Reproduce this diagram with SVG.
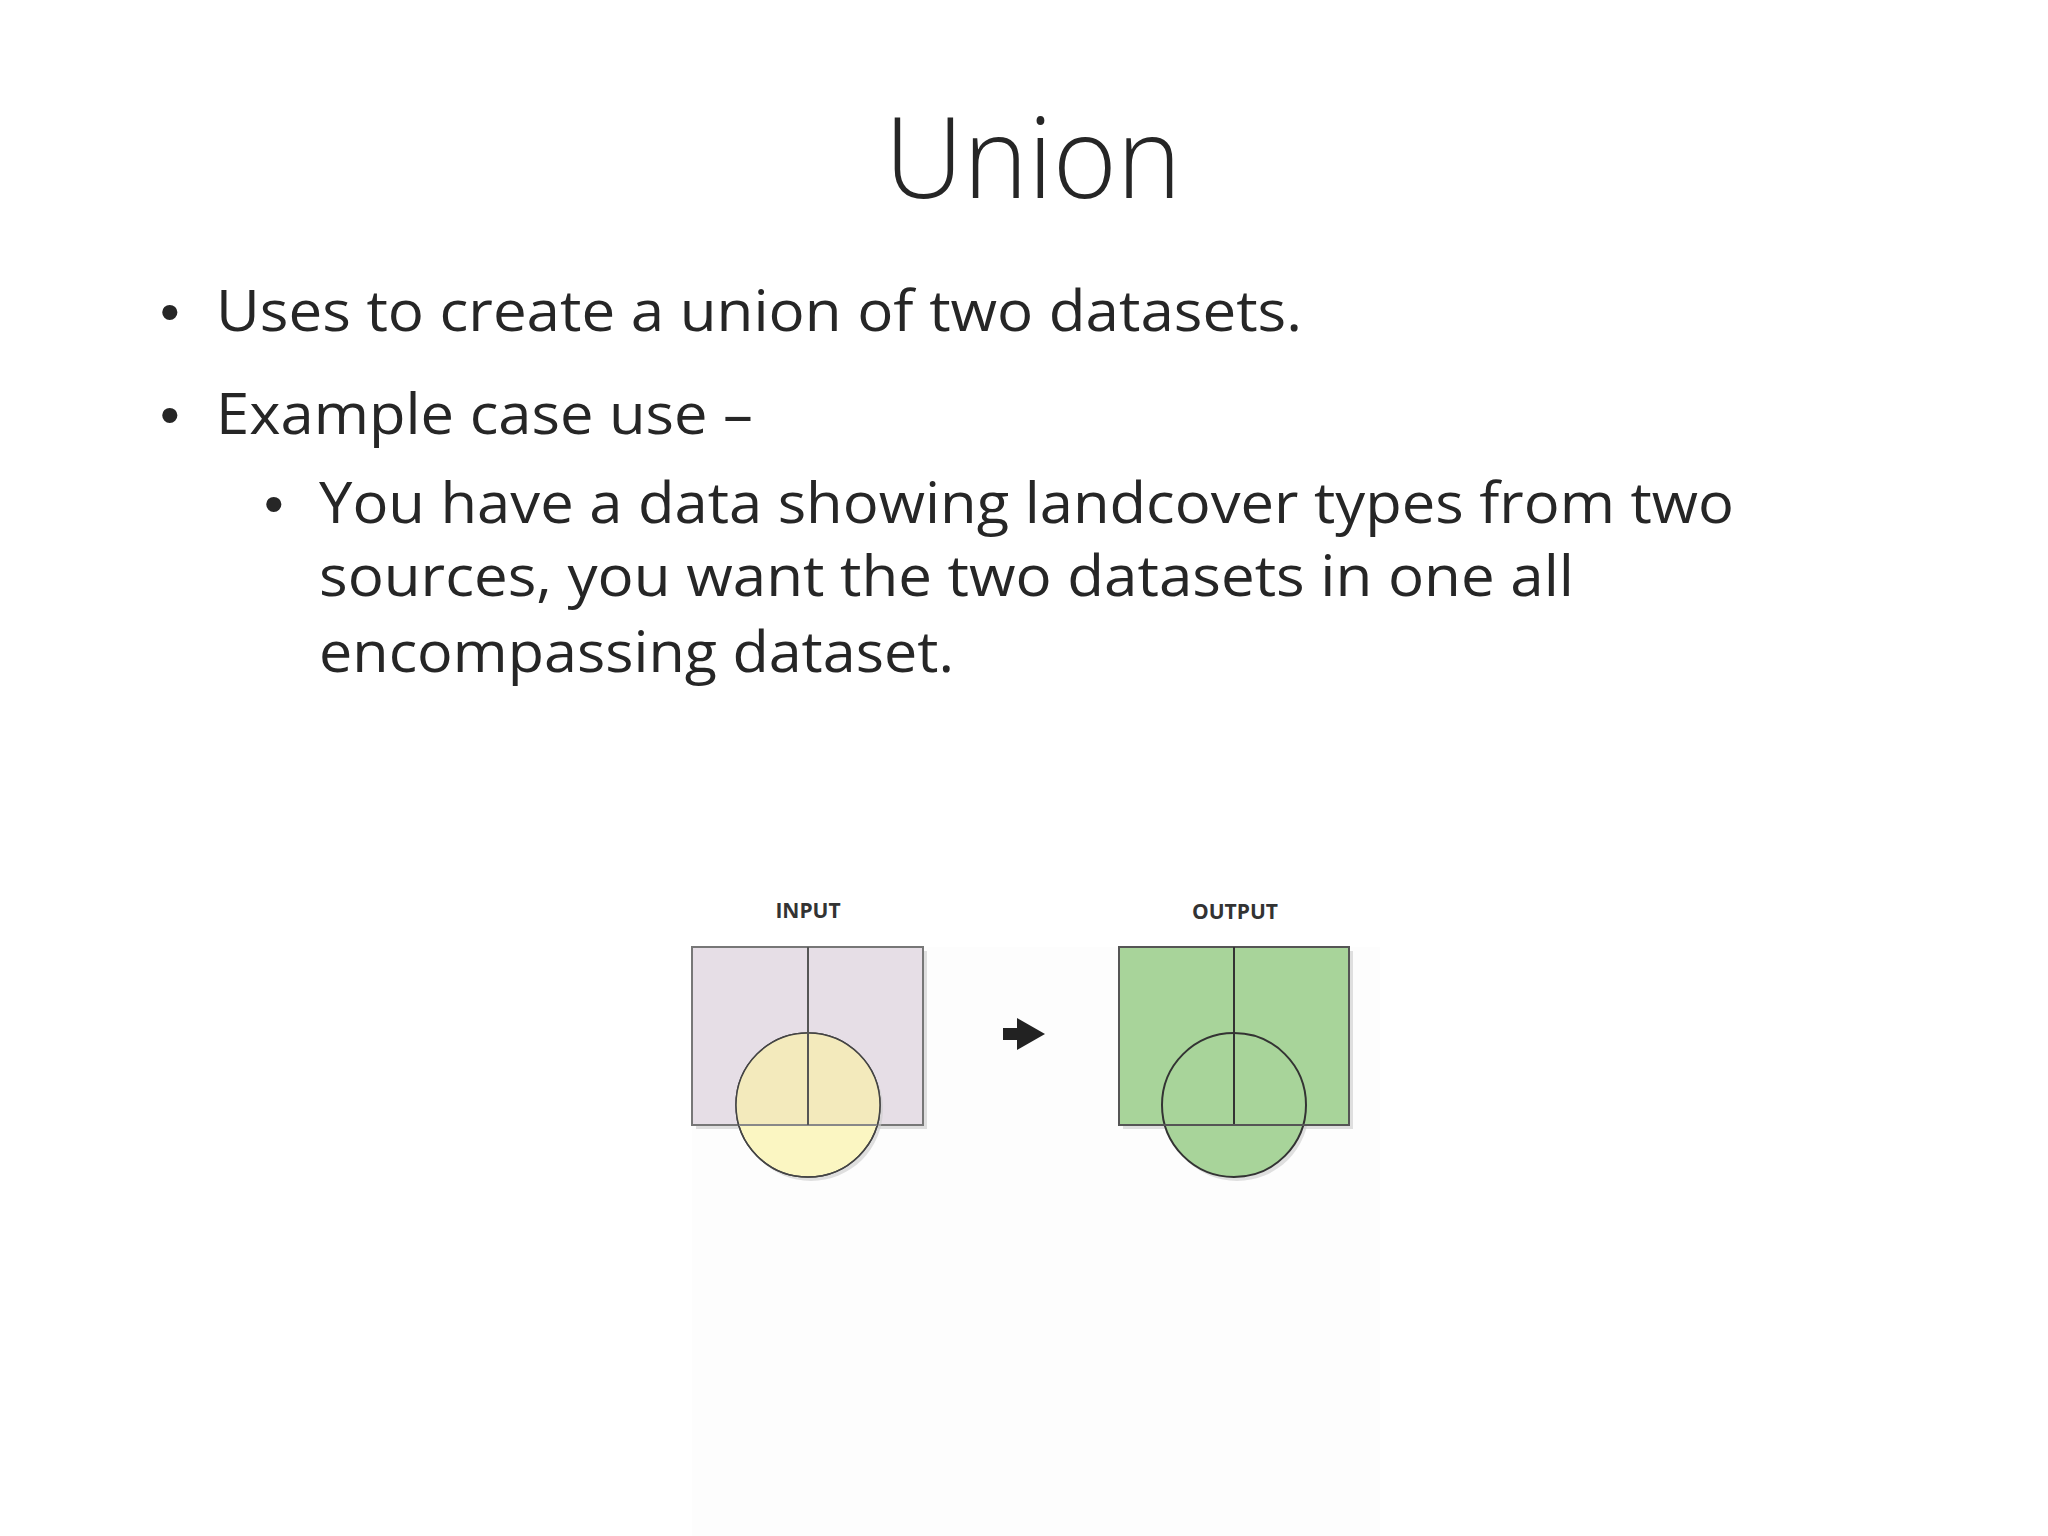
<svg xmlns="http://www.w3.org/2000/svg" width="2048" height="1536" viewBox="0 0 2048 1536">
<style>
.t{font-family:"Open Sans","Liberation Sans",sans-serif;fill:#262626}
.b{font-size:56px}
.dot{font-family:"Liberation Sans",sans-serif;font-size:56px;fill:#262626}
.lbl{font-family:"Open Sans","Liberation Sans",sans-serif;font-weight:700;font-size:21px;fill:#333;text-anchor:middle}
</style>
<rect width="2048" height="1536" fill="#fff"/>
<text class="t" x="1033" y="198" font-size="112" font-weight="300" text-anchor="middle" textLength="297" lengthAdjust="spacingAndGlyphs">Union</text>
<g class="t b">
<text class="dot" x="160" y="331">•</text>
<text x="216" y="331" textLength="1086" lengthAdjust="spacingAndGlyphs">Uses to create a union of two datasets.</text>
<text class="dot" x="160" y="434">•</text>
<text x="216" y="434" textLength="537" lengthAdjust="spacingAndGlyphs">Example case use –</text>
<text class="dot" x="264" y="523">•</text>
<text x="319" y="523" textLength="1415" lengthAdjust="spacingAndGlyphs">You have a data showing landcover types from two</text>
<text x="319" y="596" textLength="1255" lengthAdjust="spacingAndGlyphs">sources, you want the two datasets in one all</text>
<text x="319" y="672" textLength="635" lengthAdjust="spacingAndGlyphs">encompassing dataset.</text>
</g>
<g transform="translate(-7,-10)">
<rect x="699" y="957" width="688" height="590" fill="#fdfdfd"/>
<g id="input">
<text class="lbl" x="815" y="928">INPUT</text>
<rect x="703" y="961" width="231" height="178" fill="#ccc" opacity="0.6"/>
<rect x="699" y="957" width="231" height="178" fill="#e6dee6" stroke="#777" stroke-width="2"/>
<circle cx="818" cy="1119" r="72" fill="#ccc" opacity="0.6"/>
<circle cx="815" cy="1115" r="72" fill="#fbf6c2" stroke="#444" stroke-width="1.5"/>
<path d="M745.8,1135 A72,72 0 1 1 884.2,1135 Z" fill="#f3eabc"/>
<circle cx="815" cy="1115" r="72" fill="none" stroke="#444" stroke-width="1.5"/>
<line x1="745.8" y1="1135" x2="884.2" y2="1135" stroke="#888" stroke-width="2"/>
<line x1="815" y1="957" x2="815" y2="1135" stroke="#555" stroke-width="2"/>
</g>
<g id="connectors">
<path d="M1010,1038 L1024,1038 L1024,1028 L1052,1044 L1024,1060 L1024,1050 L1010,1050 Z" fill="#222"/>
</g>
<g id="output" transform="translate(-5,0)">
<text class="lbl" x="1247" y="929">OUTPUT</text>
<rect x="1135" y="961" width="230" height="178" fill="#ccc" opacity="0.6"/>
<circle cx="1249" cy="1119" r="72" fill="#ccc" opacity="0.6"/>
<rect x="1131" y="957" width="230" height="178" fill="#a8d49a" stroke="#555" stroke-width="2"/>
<circle cx="1246" cy="1115" r="72" fill="#a8d49a" stroke="#333" stroke-width="2"/>
<line x1="1246" y1="957" x2="1246" y2="1135" stroke="#333" stroke-width="2"/>
<line x1="1131" y1="1135" x2="1361" y2="1135" stroke="#555" stroke-width="2"/>
</g>
</g>
</svg>
